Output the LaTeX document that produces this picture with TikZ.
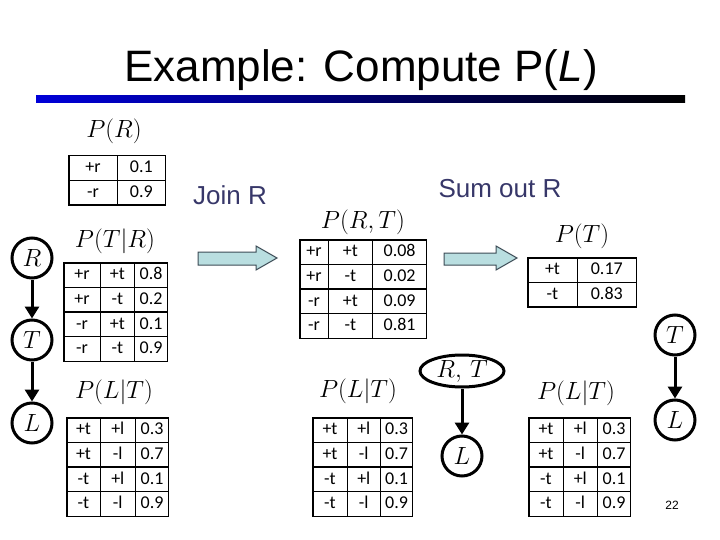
\documentclass[tikz,border=0pt]{standalone}
\usepackage{fontspec}
\setmainfont{Liberation Sans}
\newfontfamily\calibri{Carlito}
\usepackage{array}
\usetikzlibrary{arrows.meta,shapes.geometric}
\setlength{\tabcolsep}{0pt}
\setlength{\arrayrulewidth}{1.3pt}
\renewcommand{\arraystretch}{1.08}
\definecolor{slate}{RGB}{55,55,105}
\definecolor{arrfill}{RGB}{185,222,224}
\definecolor{arrdraw}{RGB}{60,75,85}

\begin{document}
\begin{tikzpicture}
[x=1pt,y=-1pt,
 cpt/.style={inner sep=0pt,anchor=north west,font=\calibri\fontsize{18}{21.6}\selectfont},
 lab/.style={font=\fontsize{24.88}{30}\selectfont},
 var/.style={draw,circle,line width=3pt,minimum size=40pt,inner sep=0pt,font=\fontsize{24.88}{30}\selectfont},
 edge/.style={line width=3pt,-{Triangle[length=12pt,width=14pt]}},
 blockarrow/.style={draw=arrdraw,fill=arrfill,line width=1pt,line join=miter}]
\useasboundingbox (0,0) rectangle (720,540);
\node (title) at (361,82) [anchor=base,font=\fontsize{44}{52}\selectfont] {Example: Compute P(\textit{L})};
\shade[left color=blue!85!black,right color=black] (36,96) rectangle (685,103); %% rule
%%
\node (labR) at (114,131) [lab] {$P(R)$};
\node (tabR) at (68,155) [cpt] {\begin{tabular}{|w{c}{47pt}|w{c}{47pt}|}\hline
+r & 0.1\\\hline -r & 0.9\\\hline\end{tabular}};
\node (labTR) at (115,241) [lab] {$P(T|R)$};
\node (tabTR) at (63,262) [cpt] {\begin{tabular}{|w{c}{35pt}|w{c}{33pt}|w{c}{32pt}|}\hline
+r & +t & 0.8\\\hline +r & -t & 0.2\\\hline -r & +t & 0.1\\\hline -r & -t & 0.9\\\hline\end{tabular}};
\node (labLT) at (114,392) [lab] {$P(L|T)$};
\node (tabLT) at (66,417) [cpt] {\begin{tabular}{|w{c}{32pt}|w{c}{34pt}|w{c}{32pt}|}\hline
+t & +l & 0.3\\\hline +t & -l & 0.7\\\hline -t & +l & 0.1\\\hline -t & -l & 0.9\\\hline\end{tabular}};
\node[var] (R) at (32,258) {$R$};
\node[var] (T) at (32,340) {$T$};
\node[var] (L) at (32,423) {$L$};
\draw[edge] (R) -- (T);
\draw[edge] (T) -- (L);
%%
\node (join) at (230,205) [anchor=base,text=slate,font=\fontsize{26}{30}\selectfont] {Join R};
\draw[blockarrow] (198,252)--(256,252)--(256,246)--(277,258)--(256,270)--(256,265)--(198,265)--cycle; %% join arrow
\node (labRT) at (363,222) [lab] {$P(R,T)$};
\node (tabRT) at (299,239) [cpt] {\begin{tabular}{|w{c}{27pt}|w{c}{43pt}|w{c}{53pt}|}\hline
+r & +t & 0.08\\\hline +r & -t & 0.02\\\hline -r & +t & 0.09\\\hline -r & -t & 0.81\\\hline\end{tabular}};
\node (labLT2) at (358,391) [lab] {$P(L|T)$};
\node (tabLT2) at (312,417) [cpt] {\begin{tabular}{|w{c}{33pt}|w{c}{32pt}|w{c}{31pt}|}\hline
+t & +l & 0.3\\\hline +t & -l & 0.7\\\hline -t & +l & 0.1\\\hline -t & -l & 0.9\\\hline\end{tabular}};
\node[draw,ellipse,line width=3pt,minimum width=84pt,minimum height=32pt,inner sep=0pt,font=\fontsize{24.88}{30}\selectfont] (RT) at (462,371) {$R,\,T$};
\node[var] (L2) at (462,456) {$L$};
\draw[edge] (RT) -- (L2);
%%
\node (sum) at (500,198) [anchor=base,text=slate,font=\fontsize{26}{30}\selectfont] {Sum out R};
\draw[blockarrow] (444,253)--(496,253)--(496,246)--(517,258)--(496,270)--(496,265)--(444,265)--cycle; %% sum arrow
\node (labT) at (582,236) [lab] {$P(T)$};
\node (tabT) at (527,257) [cpt] {\begin{tabular}{|w{c}{48pt}|w{c}{58pt}|}\hline
+t & 0.17\\\hline -t & 0.83\\\hline\end{tabular}};
\node (labLT3) at (576,393) [lab] {$P(L|T)$};
\node (tabLT3) at (528,417) [cpt] {\begin{tabular}{|w{c}{33pt}|w{c}{33pt}|w{c}{32pt}|}\hline
+t & +l & 0.3\\\hline +t & -l & 0.7\\\hline -t & +l & 0.1\\\hline -t & -l & 0.9\\\hline\end{tabular}};
\node[var] (T3) at (675,335) {$T$};
\node[var] (L3) at (675,420) {$L$};
\draw[edge] (T3) -- (L3);
\node (page) at (672,505) [font=\fontsize{12}{14}\selectfont] {22};
\end{tikzpicture}
\end{document}
